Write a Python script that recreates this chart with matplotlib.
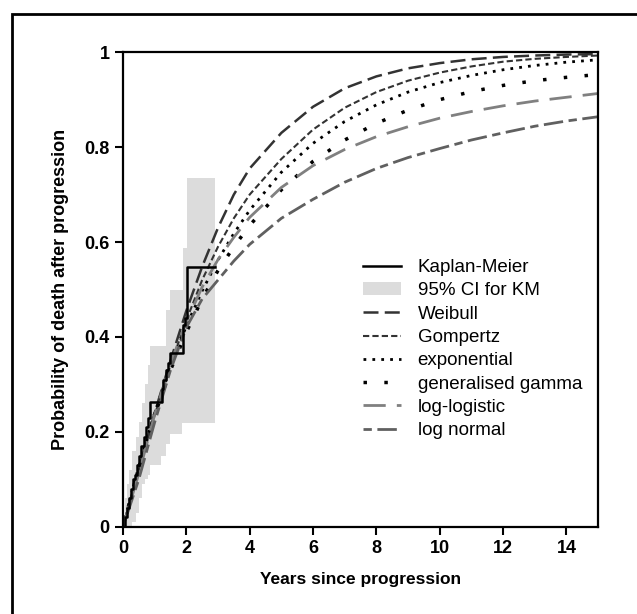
import matplotlib
matplotlib.use("Agg")
import matplotlib.pyplot as plt
from matplotlib.patches import Rectangle

plt.rcParams['font.family'] = ['Liberation Sans', 'DejaVu Sans']

# Kaplan-Meier estimate (probability of death)
km_t = [0, 0.05, 0.12, 0.18, 0.25, 0.32, 0.38, 0.45, 0.52, 0.58, 0.65, 0.72, 0.78, 0.85,
        1.22, 1.28, 1.35, 1.42, 1.5, 1.89, 1.95, 2.02, 2.9]
km_p = [0, 0.02, 0.04, 0.06, 0.08, 0.10, 0.11, 0.13, 0.15, 0.17, 0.19, 0.21, 0.23, 0.264,
        0.29, 0.31, 0.33, 0.345, 0.366, 0.425, 0.44, 0.547, 0.547]

# 95% CI for KM
ci_t = [0, 0.05, 0.12, 0.2, 0.3, 0.4, 0.5, 0.6, 0.7, 0.8, 0.85, 1.2, 1.37, 1.5, 1.85, 1.89, 2.03, 2.9]
ci_hi = [0.02, 0.06, 0.09, 0.12, 0.16, 0.19, 0.22, 0.26, 0.30, 0.34, 0.38, 0.38, 0.457, 0.50,
         0.50, 0.587, 0.735, 0.735]
ci_lo = [0, 0, 0, 0, 0.01, 0.03, 0.06, 0.09, 0.10, 0.11, 0.13, 0.15, 0.175, 0.196, 0.218,
         0.218, 0.218, 0.218]

# fitted parametric curves
t = [0, 0.5, 1, 1.5, 2, 2.5, 3, 3.5, 4, 5, 6, 7, 8, 9, 10, 11, 12, 13, 14, 15]
weibull = [0, 0.12, 0.24, 0.35, 0.455, 0.548, 0.63, 0.7, 0.755, 0.83, 0.885, 0.924, 0.949,
           0.966, 0.977, 0.985, 0.99, 0.993, 0.995, 0.996]
gompertz = [0, 0.12, 0.235, 0.34, 0.435, 0.52, 0.59, 0.65, 0.70, 0.775, 0.837, 0.883, 0.916,
            0.94, 0.957, 0.97, 0.98, 0.986, 0.99, 0.993]
exponential = [0, 0.128, 0.24, 0.338, 0.423, 0.497, 0.562, 0.618, 0.667, 0.747, 0.808, 0.854,
               0.889, 0.916, 0.936, 0.951, 0.963, 0.972, 0.979, 0.984]
gen_gamma = [0, 0.125, 0.235, 0.33, 0.41, 0.48, 0.54, 0.59, 0.635, 0.71, 0.77, 0.815, 0.85,
             0.878, 0.9, 0.917, 0.93, 0.94, 0.947, 0.953]
log_logistic = [0, 0.112, 0.236, 0.344, 0.432, 0.505, 0.563, 0.61, 0.652, 0.715, 0.761, 0.795,
                0.822, 0.843, 0.861, 0.875, 0.887, 0.897, 0.905, 0.913]
log_normal = [0, 0.10, 0.22, 0.33, 0.42, 0.48, 0.52, 0.56, 0.595, 0.65, 0.69, 0.726, 0.755,
              0.778, 0.797, 0.815, 0.83, 0.844, 0.855, 0.864]

fig = plt.figure(figsize=(6.37, 6.14), dpi=100)
ax = fig.add_axes([0.193, 0.142, 0.746, 0.773])

ax.fill_between(ci_t, ci_lo, ci_hi, step='post', color='#dcdcdc', lw=0, label='95% CI for KM')
ax.step(km_t, km_p, where='post', color='black', lw=1.8, label='Kaplan-Meier', zorder=5)

ax.plot(t, weibull, color='#333333', lw=1.8, dashes=(6, 2.5), label='Weibull')
ax.plot(t, gompertz, color='#333333', lw=1.5, dashes=(3, 1.5), label='Gompertz')
ax.plot(t, exponential, color='black', lw=2, dashes=(1, 2.2), label='exponential')
ax.plot(t, gen_gamma, color='black', lw=2.5, dashes=(1, 5), label='generalised gamma')
ax.plot(t, log_logistic, color='#808080', lw=2, dashes=(8, 4), label='log-logistic')
ax.plot(t, log_normal, color='#606060', lw=2, dashes=(3, 2, 7, 2), label='log normal')

handles, labels = ax.get_legend_handles_labels()
order = [1, 0, 2, 3, 4, 5, 6, 7]
leg = ax.legend([handles[i] for i in order], [labels[i] for i in order],
                loc='upper left', bbox_to_anchor=(0.49, 0.58), frameon=False,
                fontsize=13.5, handlelength=2.0, labelspacing=0.33, handletextpad=0.9,
                borderaxespad=0)

ax.set_xlim(0, 15)
ax.set_ylim(0, 1)
ax.set_xticks([0, 2, 4, 6, 8, 10, 12, 14])
ax.set_yticks([0, 0.2, 0.4, 0.6, 0.8, 1])
ax.set_yticklabels(['0', '0.2', '0.4', '0.6', '0.8', '1'])
ax.tick_params(direction='out', length=6, width=1.5, labelsize=13)
for lab in ax.get_xticklabels() + ax.get_yticklabels():
    lab.set_fontweight('bold')
for s in ax.spines.values():
    s.set_linewidth(1.6)

ax.set_xlabel('Years since progression', fontsize=12.5, fontweight='bold', labelpad=11)
ax.set_ylabel('Probability of death after progression', fontsize=13, fontweight='bold', labelpad=11)

fig.patches.append(Rectangle((0.019, -0.2), 1.5, 1.177, transform=fig.transFigure,
                             fill=False, lw=2, edgecolor='black'))

fig.savefig('out.png', dpi=100)
